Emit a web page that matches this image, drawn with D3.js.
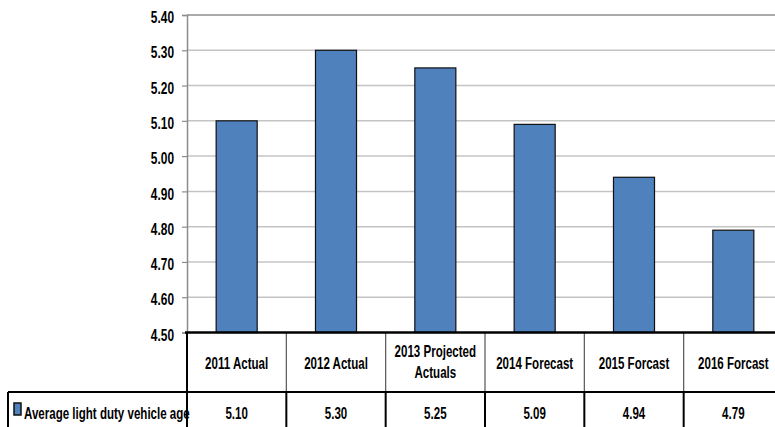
<!DOCTYPE html>
<html>
<head>
<meta charset="utf-8">
<script src="https://cdn.jsdelivr.net/npm/d3@7"></script>
<style>
  body { margin: 0; background: #fff; }
  svg text { font-family: "Liberation Sans", Arial, sans-serif; font-weight: bold; fill: #000; }
</style>
</head>
<body>
<div id="chart"></div>
<script>
var categories = ["2011 Actual", "2012 Actual", "2013 Projected|Actuals", "2014 Forecast", "2015 Forcast", "2016 Forcast"]
var values = [5.10, 5.30, 5.25, 5.09, 4.94, 4.79]
var valueLabels = ["5.10", "5.30", "5.25", "5.09", "4.94", "4.79"]
var yTicks = [4.50, 4.60, 4.70, 4.80, 4.90, 5.00, 5.10, 5.20, 5.30, 5.40]
var seriesName = "Average light duty vehicle age"

var width = 775, height = 427
// the plot runs a little past the right edge of the picture
var plotLeft = 187, plotRight = 783, plotTop = 15, plotBottom = 332.5
var headerBottom = 392, tableLeft = 8
var squeeze = 0.7 // text in the source is narrow (calibri-like), squash horizontally

var svg = d3.select("#chart").append("svg")
    .attr("width", width)
    .attr("height", height)

var x = d3.scaleBand()
    .domain(categories)
    .range([plotLeft, plotRight])
    .paddingInner(0.587)
    .paddingOuter(0.2935)

var y = d3.scaleLinear()
    .domain([4.5, 5.4])
    .range([plotBottom, plotTop])

// narrow text helper
function narrowText(parent, tx, ty, size, anchor, str) {
    return parent.append("text")
        .attr("transform", `translate(${tx},${ty}) scale(${squeeze},1)`)
        .attr("font-size", size)
        .attr("text-anchor", anchor)
        .text(str)
}

// gridlines
svg.append("g")
    .selectAll("line")
    .data(yTicks.slice(1))
    .enter()
    .append("line")
    .attr("x1", plotLeft)
    .attr("x2", plotRight)
    .attr("y1", d => y(d))
    .attr("y2", d => y(d))
    .attr("stroke", (d, i) => i === yTicks.length - 2 ? "#8c8c8c" : "#c4c4c4")
    .attr("stroke-width", 1.5)

// y axis
var yAxis = d3.axisLeft(y)
    .tickValues(yTicks)
    .tickFormat(d3.format(".2f"))
    .tickSize(5)
    .tickPadding(0)

var yg = svg.append("g")
    .attr("transform", `translate(${plotLeft},0)`)
    .call(yAxis)
yg.select(".domain").attr("stroke", "#8c8c8c").attr("stroke-width", 1.5)
yg.selectAll(".tick line").attr("stroke", "#8c8c8c").attr("stroke-width", 1.2)
yg.selectAll(".tick text")
    .attr("font-size", 17)
    .attr("x", -13 / squeeze)
    .attr("dy", "0.45em")
    .attr("transform", `scale(${squeeze},1)`)

// bars
svg.append("g")
    .selectAll("rect")
    .data(values)
    .enter()
    .append("rect")
    .attr("x", (d, i) => x(categories[i]))
    .attr("width", x.bandwidth())
    .attr("y", d => y(d))
    .attr("height", d => y(4.5) - y(d))
    .attr("fill", "#4f81bd")
    .attr("stroke", "#111")
    .attr("stroke-width", 1.2)

// data table
var step = x.step()
var table = svg.append("g")

table.selectAll("line.col")
    .data(d3.range(1, categories.length))
    .enter()
    .append("line")
    .attr("class", "col")
    .attr("x1", i => plotLeft + i * step)
    .attr("x2", i => plotLeft + i * step)
    .attr("y1", plotBottom)
    .attr("y2", headerBottom)
    .attr("stroke", "#555")
    .attr("stroke-width", 1.2)

table.selectAll("line.col2")
    .data(d3.range(1, categories.length))
    .enter()
    .append("line")
    .attr("class", "col2")
    .attr("x1", i => plotLeft + i * step)
    .attr("x2", i => plotLeft + i * step)
    .attr("y1", headerBottom)
    .attr("y2", height)
    .attr("stroke", "#000")
    .attr("stroke-width", 2)

table.append("line")
    .attr("x1", plotLeft).attr("x2", plotLeft)
    .attr("y1", plotBottom).attr("y2", height)
    .attr("stroke", "#000").attr("stroke-width", 2)

table.append("line")
    .attr("x1", tableLeft).attr("x2", tableLeft)
    .attr("y1", headerBottom).attr("y2", height)
    .attr("stroke", "#000").attr("stroke-width", 2)

table.append("line")
    .attr("x1", plotLeft - 2).attr("x2", plotRight)
    .attr("y1", plotBottom).attr("y2", plotBottom)
    .attr("stroke", "#000").attr("stroke-width", 2.5)

table.append("line")
    .attr("x1", tableLeft).attr("x2", plotRight)
    .attr("y1", headerBottom).attr("y2", headerBottom)
    .attr("stroke", "#000").attr("stroke-width", 2)

// header labels (| = line break)
categories.forEach(function (c) {
    var cx = x(c) + x.bandwidth() / 2
    var parts = c.split("|")
    parts.forEach(function (p, j) {
        var ty = parts.length > 1 ? 357 + j * 21 : 369
        narrowText(table, cx, ty, 16.5, "middle", p)
    })
})

// value row
valueLabels.forEach(function (v, i) {
    narrowText(table, x(categories[i]) + x.bandwidth() / 2, 419, 16.5, "middle", v)
})

// legend key + series name
table.append("rect")
    .attr("x", 14).attr("y", 403)
    .attr("width", 7).attr("height", 12)
    .attr("fill", "#4f81bd")
    .attr("stroke", "#111").attr("stroke-width", 1.5)

narrowText(table, 24, 419, 16.5, "start", seriesName)
</script>
</body>
</html>
